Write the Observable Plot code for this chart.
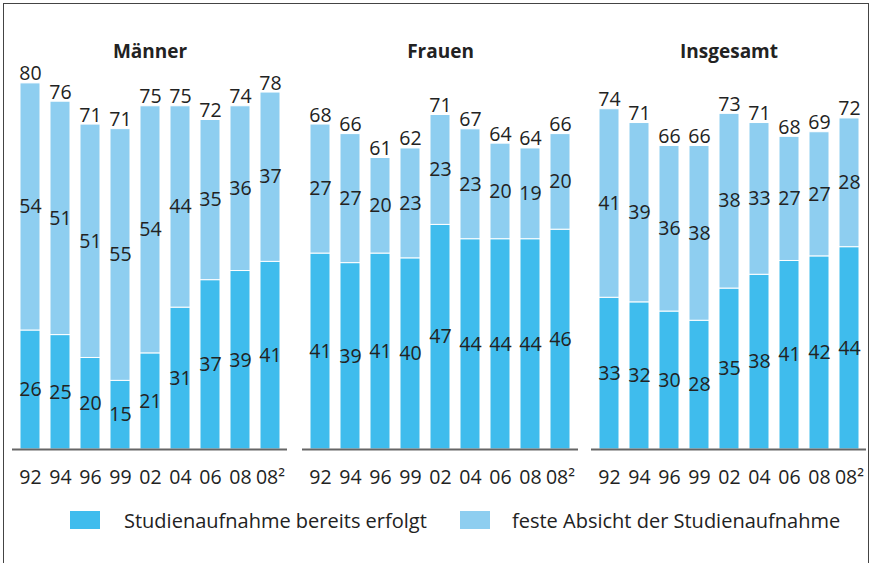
<!DOCTYPE html>
<html>
<head>
<meta charset="utf-8">
<script src="https://cdn.jsdelivr.net/npm/d3@7"></script>
<script src="https://cdn.jsdelivr.net/npm/@observablehq/plot@0.6"></script>
<style>
  html, body { margin: 0; padding: 0; background: #fff; width: 873px; height: 563px; overflow: hidden; }
  body { position: relative; font-family: "Open Sans", sans-serif; color: #222; }
  #frame { position: absolute; left: 3px; top: 3px; width: 864px; height: 620px; border: 1.5px solid #444; pointer-events: none; }
  .panel { position: absolute; top: 0; }
  #legend { position: absolute; left: 0; top: 508px; width: 873px; height: 24px; font-size: 20px; color: #222; }
  .item { position: absolute; top: 0; display: flex; align-items: center; height: 24px; white-space: nowrap; }
  .sw { width: 30px; height: 18px; display: inline-block; }
</style>
</head>
<body>
<div id="charts"></div>
<div id="legend"></div>
<div id="frame"></div>
<script>
const panels = ["Männer", "Frauen", "Insgesamt"];
const years = ["92", "94", "96", "99", "02", "04", "06", "08", "08²"];
const seriesNames = ["Studienaufnahme bereits erfolgt", "feste Absicht der Studienaufnahme"];
const seriesColors = ["#3fbced", "#8ecef0"];

const erfolgtMaenner = [26, 25, 20, 15, 21, 31, 37, 39, 41];
const absichtMaenner = [54, 51, 51, 55, 54, 44, 35, 36, 37];
const totalMaenner   = [80, 76, 71, 71, 75, 75, 72, 74, 78];

const erfolgtFrauen = [41, 39, 41, 40, 47, 44, 44, 44, 46];
const absichtFrauen = [27, 27, 20, 23, 23, 23, 20, 19, 20];
const totalFrauen   = [68, 66, 61, 62, 71, 67, 64, 64, 66];

const erfolgtGesamt = [33, 32, 30, 28, 35, 38, 41, 42, 44];
const absichtGesamt = [41, 39, 36, 38, 38, 33, 27, 27, 28];
const totalGesamt   = [74, 71, 66, 66, 73, 71, 68, 69, 72];

// each panel of the original has its own vertical scale
const yMax = [85, 81.4, 84.6];

const panelData = [
  [erfolgtMaenner, absichtMaenner, totalMaenner],
  [erfolgtFrauen, absichtFrauen, totalFrauen],
  [erfolgtGesamt, absichtGesamt, totalGesamt]
];

const layout = [
  {left: 0, width: 290, marginLeft: 12, marginRight: 3},
  {left: 290, width: 290, marginLeft: 12, marginRight: 2},
  {left: 580, width: 293, marginLeft: 11, marginRight: 7}
];

const container = document.getElementById("charts");

panels.forEach((p, pi) => {
  const [e, a, t] = panelData[pi];
  const rows = [];
  const totals = [];
  years.forEach((yr, i) => {
    rows.push({year: yr, series: seriesNames[0], value: e[i]});
    rows.push({year: yr, series: seriesNames[1], value: a[i]});
    totals.push({year: yr, top: e[i] + a[i], total: t[i]});
  });
  const L = layout[pi];
  const chart = Plot.plot({
    width: L.width,
    height: 500,
    marginTop: 60,
    marginBottom: 51,
    marginLeft: L.marginLeft,
    marginRight: L.marginRight,
    style: {fontFamily: "Open Sans, sans-serif", fontSize: "19.5px", color: "#222", background: "transparent", overflow: "visible"},
    x: {domain: years, paddingInner: 0.35, paddingOuter: 0.16, axis: "bottom", tickSize: 0, tickPadding: 21, label: null},
    y: {domain: [0, yMax[pi]], axis: null},
    color: {domain: seriesNames, range: seriesColors},
    marks: [
      Plot.barY(rows, {x: "year", y: "value", fill: "series", z: "series", stroke: "#fff", strokeWidth: 1}),
      Plot.text(rows, Plot.stackY({x: "year", y: "value", z: "series", text: d => String(d.value), fill: "#222", fontSize: 19.5})),
      Plot.text(totals, {x: "year", y: "top", text: d => String(d.total), lineAnchor: "bottom", dy: -3, fill: "#222", fontSize: 19.5}),
      Plot.ruleY([0], {stroke: "#666", strokeWidth: 2}),
      Plot.text([p], {text: d => d, frameAnchor: "top", dy: -16, fontWeight: "bold", fontSize: 19, fill: "#222"})
    ]
  });
  const wrap = document.createElement("div");
  wrap.className = "panel";
  wrap.style.left = L.left + "px";
  wrap.appendChild(chart);
  container.appendChild(wrap);
});

const legend = document.getElementById("legend");
const legendPos = [{sw: 70, tx: 124}, {sw: 460, tx: 512}];
seriesNames.forEach((name, i) => {
  const sw = document.createElement("div");
  sw.className = "item";
  sw.style.left = legendPos[i].sw + "px";
  sw.innerHTML = `<span class="sw" style="background:${seriesColors[i]}"></span>`;
  legend.appendChild(sw);
  const tx = document.createElement("div");
  tx.className = "item";
  tx.style.left = legendPos[i].tx + "px";
  tx.textContent = name;
  legend.appendChild(tx);
});
</script>
</body>
</html>
